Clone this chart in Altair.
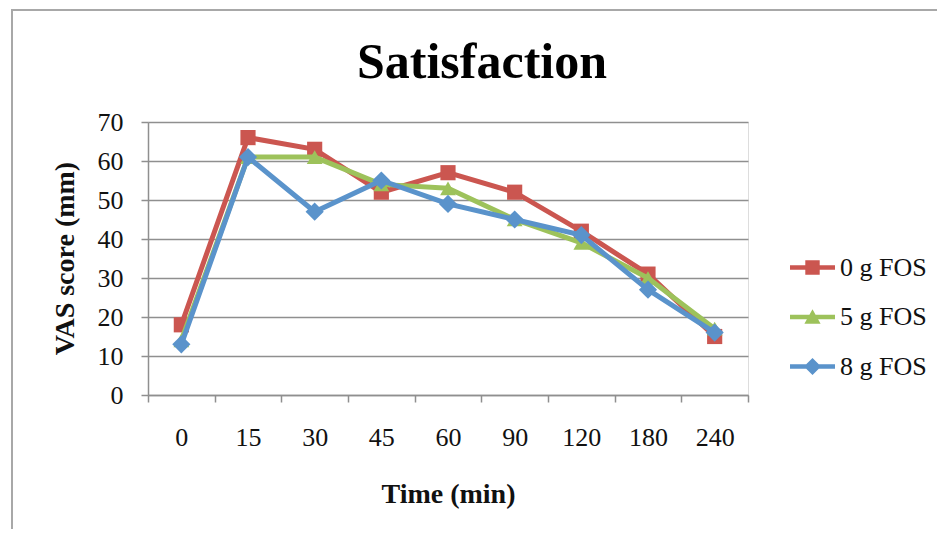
import altair as alt
import pandas as pd

time_labels = ["0", "15", "30", "45", "60", "90", "120", "180", "240"]
series_names = ["0 g FOS", "5 g FOS", "8 g FOS"]
fos0 = [18, 66, 63, 52, 57, 52, 42, 31, 15]
fos5 = [14, 61, 61, 54, 53, 45, 39, 30, 17]
fos8 = [13, 61, 47, 55, 49, 45, 41, 27, 16]
y_ticks = [0, 10, 20, 30, 40, 50, 60, 70]

colors = ["#CB5650", "#9DC25B", "#5A93CB"]
shapes = ["square", "triangle-up", "diamond"]
sizes = [230, 250, 330]
legend_paths = [
    "M-1,-0.1H1V0.1H-1Z M-0.32,-0.32H0.32V0.32H-0.32Z",
    "M-1,-0.1H1V0.1H-1Z M0,-0.34L0.36,0.3H-0.36Z",
    "M-1,-0.1H1V0.1H-1Z M0,-0.38L0.38,0L0,0.38L-0.38,0Z",
]

rows = []
for name, vals in zip(series_names, [fos0, fos5, fos8]):
    for t, v in zip(time_labels, vals):
        rows.append({"time": t, "value": v, "series": name})
df = pd.DataFrame(rows)

FONT = "Liberation Serif"
GRID = "#8f8f8f"

x_enc = alt.X(
    "time:N",
    sort=time_labels,
    scale=alt.Scale(paddingInner=0, paddingOuter=0),
    axis=alt.Axis(
        title="Time (min)",
        tickBand="extent",
        labelAngle=0,
        grid=False,
        domainColor=GRID,
        domainWidth=1.5,
        tickColor=GRID,
        tickWidth=1.5,
        tickSize=7,
        labelPadding=22,
        labelFont=FONT,
        labelFontSize=26,
        labelColor="#111",
        titleFont=FONT,
        titleFontSize=28,
        titleFontWeight="bold",
        titleColor="#111",
        titleY=107,
        titleBaseline="alphabetic",
    ),
)
y_enc = alt.Y(
    "value:Q",
    scale=alt.Scale(domain=[0, 70], nice=False),
    axis=alt.Axis(
        title="VAS score (mm)",
        values=y_ticks,
        grid=True,
        gridColor=GRID,
        gridWidth=1.5,
        domainColor=GRID,
        domainWidth=1.5,
        tickColor=GRID,
        tickWidth=1.5,
        tickSize=7,
        labelPadding=18,
        labelFont=FONT,
        labelFontSize=26,
        labelColor="#111",
        titleFont=FONT,
        titleFontSize=28,
        titleFontWeight="bold",
        titleColor="#111",
        titleX=-75,
        titleY=136,
        titleBaseline="alphabetic",
        titleAngle=270,
    ),
)

layers = []
for name, col, shp, sz in zip(series_names, colors, shapes, sizes):
    sub = df[df["series"] == name]
    base = alt.Chart(sub)
    layers.append(
        base.mark_line(strokeWidth=5, color=col).encode(x=x_enc, y=y_enc)
    )
    layers.append(
        base.mark_point(filled=True, shape=shp, size=sz, color=col, opacity=1).encode(
            x=x_enc, y=y_enc
        )
    )

legend_layer = alt.Chart(df).mark_point(
    filled=True, size=0, strokeWidth=0, opacity=1
).encode(
    x=x_enc,
    y=y_enc,
    color=alt.Color(
        "series:N",
        scale=alt.Scale(domain=series_names, range=colors),
        legend=alt.Legend(
            title=None,
            orient="none",
            legendX=642,
            legendY=123,
            symbolSize=2025,
            symbolStrokeWidth=0,
            symbolOpacity=1,
            labelFont=FONT,
            labelFontSize=26,
            labelColor="#111",
            labelOffset=5,
            rowPadding=13.5,
        ),
    ),
    shape=alt.Shape(
        "series:N",
        scale=alt.Scale(domain=series_names, range=legend_paths),
    ),
)

border = alt.Chart(pd.DataFrame({"a": [0]})).mark_rect(
    fill=None, stroke="#a8a8a8", strokeWidth=2, clip=False
).encode(
    x=alt.value(-136), x2=alt.value(800), y=alt.value(-112), y2=alt.value(420)
)

chart = alt.layer(border, *layers, legend_layer).properties(
    width=600,
    height=273,
    title=alt.TitleParams(
        "Satisfaction",
        font=FONT,
        fontSize=50,
        fontWeight="bold",
        color="#000",
        anchor="middle",
        frame="group",
        baseline="alphabetic",
        dx=34,
        offset=-119,
    ),
    autosize=alt.AutoSizeParams(type="none"),
    padding={"left": 140, "top": 114, "right": 189, "bottom": 134},
).configure_view(stroke=None).configure(background="white")

chart.save("out.html", embed_options={"renderer": "svg", "actions": False})
